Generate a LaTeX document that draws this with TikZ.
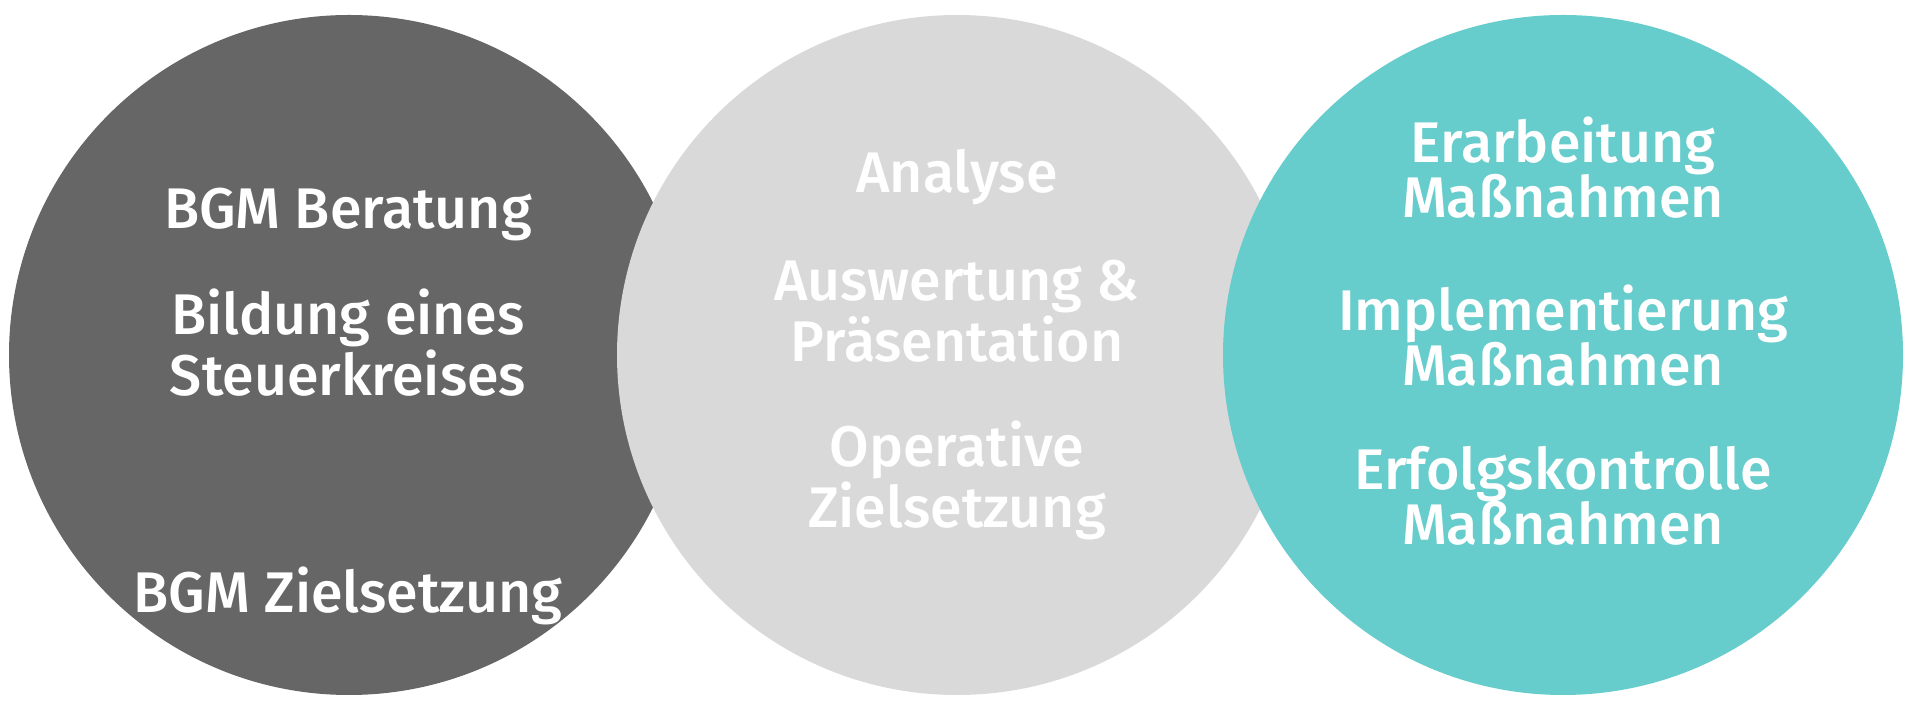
\documentclass[tikz,border=0pt]{standalone}
\usepackage{fontspec}
\setmainfont{Open Sans}
\newfontfamily\stichwortfont{Fira Sans}[UprightFont=* Medium]
\definecolor{kreisdunkel}{HTML}{666666}
\definecolor{kreishell}{HTML}{D9D9D9}
\definecolor{kreistuerkis}{HTML}{66CCCC}
\tikzset{
  kreis/.style={circle, minimum size=6.8cm, inner sep=0pt},
  stichwort/.style={text=white, align=center, anchor=base, inner sep=0pt,
    font=\stichwortfont\fontsize{16.3}{15.9}\selectfont},
}

\begin{document}
\begin{tikzpicture}
    \useasboundingbox (0,0) rectangle (19.2,7.16);

    % Drei Kreise (der rechte liegt oben)
    \node[kreis, fill=kreisdunkel] (links) at (3.49,3.61) {};
    \node[kreis, fill=kreishell] (mitte) at (9.57,3.61) {};
    \node[kreis, fill=kreistuerkis] (rechts) at (15.63,3.61) {};

    % Linker Kreis
    \node[stichwort] (beratung) at (3.48,4.87) {BGM Beratung};
    \node[stichwort] (steuerkreis) at (3.48,3.20) {Bildung eines\\Steuerkreises};
    \node[stichwort] (zielbgm) at (3.48,1.04) {BGM Zielsetzung};

    % Mittlerer Kreis
    \node[stichwort] (analyse) at (9.57,5.23) {Analyse};
    \node[stichwort] (auswertung) at (9.57,3.54) {Auswertung \&\\Präsentation};
    \node[stichwort] (zieloperativ) at (9.57,1.88) {Operative\\Zielsetzung};

    % Rechter Kreis
    \node[stichwort] (erarbeitung) at (15.63,4.98) {Erarbeitung\\Maßnahmen};
    \node[stichwort] (implementierung) at (15.63,3.30) {Implementierung\\Maßnahmen};
    \node[stichwort] (erfolg) at (15.63,1.71) {Erfolgskontrolle\\Maßnahmen};
\end{tikzpicture}
\end{document}
